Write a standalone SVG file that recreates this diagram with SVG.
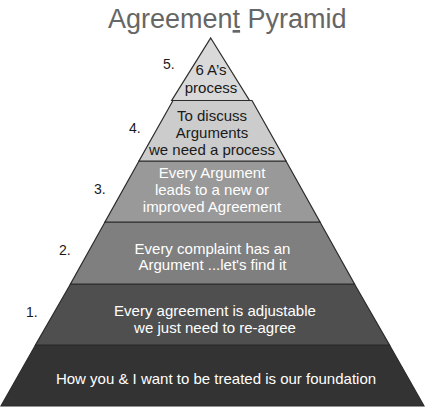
<svg xmlns="http://www.w3.org/2000/svg" width="425" height="408" viewBox="0 0 425 408">
<style>
  text { font-family: "Liberation Sans", Arial, sans-serif; }
  .title { font-size: 27px; fill: #666666; }
  .lbl { font-size: 15px; text-anchor: middle; }
  .dark { fill: #1a1a1a; }
  .light { fill: #ffffff; }
  .num { font-size: 14px; fill: #1a1a1a; }
  .tier { stroke: #2b2b2b; stroke-width: 1.2; stroke-linejoin: miter; }
</style>
<rect x="0" y="0" width="425" height="408" fill="#ffffff"/>
<text class="title" x="108" y="28">Agreemen<tspan text-decoration="underline">t</tspan> Pyramid</text>

<g id="tier0">
  <polygon class="tier" points="1,406 424,406 389.5,345 35.5,345" fill="#333333"/>
  <text class="lbl light" x="216" y="383.5">How you &amp; I want to be treated is our foundation</text>
</g>
<g id="tier1">
  <polygon class="tier" points="35.5,345 389.5,345 354.5,284 70.5,284" fill="#4f4f4f"/>
  <text class="lbl light" x="215" y="316">Every agreement is adjustable</text>
  <text class="lbl light" x="215" y="332.5">we just need to re-agree</text>
  <text class="num" x="26" y="317">1.</text>
</g>
<g id="tier2">
  <polygon class="tier" points="70.5,284 354.5,284 320,222 105,222" fill="#7f7f7f"/>
  <text class="lbl light" x="212.5" y="253.5">Every complaint has an</text>
  <text class="lbl light" x="212.5" y="269.5">Argument ...let's find it</text>
  <text class="num" x="59" y="255">2.</text>
</g>
<g id="tier3">
  <polygon class="tier" points="105,222 320,222 286,161 139,161" fill="#999999"/>
  <text class="lbl light" x="212" y="177.5">Every Argument</text>
  <text class="lbl light" x="212" y="194.5">leads to a new or</text>
  <text class="lbl light" x="212" y="211.5">improved Agreement</text>
  <text class="num" x="94" y="193.5">3.</text>
</g>
<g id="tier4">
  <polygon class="tier" points="139,161 286,161 252,100.5 173,100.5" fill="#cccccc"/>
  <text class="lbl dark" x="212" y="121">To discuss</text>
  <text class="lbl dark" x="212" y="137.5">Arguments</text>
  <text class="lbl dark" x="212" y="154.5">we need a process</text>
  <text class="num" x="129" y="132.5">4.</text>
</g>
<g id="tier5">
  <polygon class="tier" points="210.7,38 249.5,100.5 171.7,100.5" fill="#d9d9d9"/>
  <text class="lbl dark" x="211" y="75">6 A’s</text>
  <text class="lbl dark" x="211" y="92.5">process</text>
  <text class="num" x="163" y="68.5">5.</text>
</g>
</svg>
